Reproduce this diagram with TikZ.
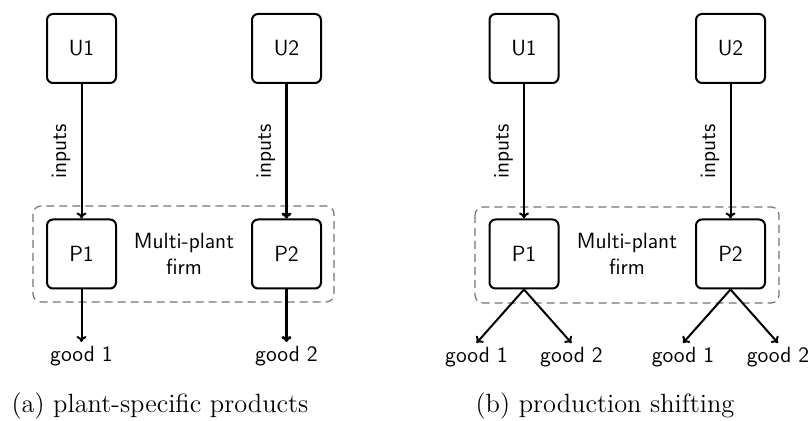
\documentclass[tikz,border=0pt]{standalone}
\usetikzlibrary{arrows.meta}
\begin{document}
\begin{tikzpicture}[x=0.5pt,y=-0.5pt,
  box/.style={draw, line width=1pt, rounded corners=3pt, minimum width=34.5pt, minimum height=34.5pt, inner sep=0pt, font=\sffamily\fontsize{11}{13}\selectfont},
  firm/.style={draw=black!55, dashed, dash pattern=on 4pt off 2.5pt, line width=0.6pt, rounded corners=4pt},
  flow/.style={-{To[length=3pt,width=5pt]}, line width=1pt},
  lbl/.style={font=\sffamily\fontsize{11}{13}\selectfont},
  good/.style={font=\sffamily\fontsize{11}{13}\selectfont, anchor=north, inner sep=2pt},
  captext/.style={font=\rmfamily\fontsize{13.2}{16}\selectfont, anchor=base}]
\useasboundingbox (0,0) rectangle (812,421);
% ---------- panel (a)
\draw[firm] (33,206) rectangle (334,302);
\node[box] (aU1) at (81.5,48.5) {U1};
\node[box] (aU2) at (286.5,48.5) {U2};
\node[box] (aP1) at (81.5,254) {P1};
\node[box] (aP2) at (286.5,254) {P2};
\node[lbl, align=center] (afirm) at (184,254) {Multi-plant\\firm};
\node[good] (ag1) at (81.5,342) {good 1};
\node[good] (ag2) at (286.5,342) {good 2};
\draw[flow] (aU1) -- node[midway, rotate=90, anchor=south, inner sep=5pt, lbl] {inputs} (aP1);
\draw[flow, line width=1.4pt] (aU2) -- node[midway, rotate=90, anchor=south, inner sep=5pt, lbl] {inputs} (aP2);
\draw[flow] (aP1) -- (ag1);
\draw[flow, line width=1.4pt] (aP2) -- (ag2);
\node[captext] (capa) at (160,412) {(a) plant-specific products};
% ---------- panel (b)
\draw[firm] (475,207) rectangle (779,303);
\node[box] (bU1) at (524,48.5) {U1};
\node[box] (bU2) at (730.5,48.5) {U2};
\node[box] (bP1) at (524,254) {P1};
\node[box] (bP2) at (730.5,254) {P2};
\node[lbl, align=center] (bfirm) at (627,254) {Multi-plant\\firm};
\node[good] (b1g1) at (476.5,343) {good 1};
\node[good] (b1g2) at (571.5,343) {good 2};
\node[good] (b2g1) at (683,343) {good 1};
\node[good] (b2g2) at (778,343) {good 2};
\draw[flow] (bU1) -- node[midway, rotate=90, anchor=south, inner sep=5pt, lbl] {inputs} (bP1);
\draw[flow] (bU2) -- node[midway, rotate=90, anchor=south, inner sep=5pt, lbl] {inputs} (bP2);
\draw[flow] (bP1.south) -- (b1g1.north);
\draw[flow] (bP1.south) -- (b1g2.north);
\draw[flow] (bP2.south) -- (b2g1.north);
\draw[flow] (bP2.south) -- (b2g2.north);
\node[captext] (capb) at (605,412) {(b) production shifting};
\end{tikzpicture}
\end{document}
